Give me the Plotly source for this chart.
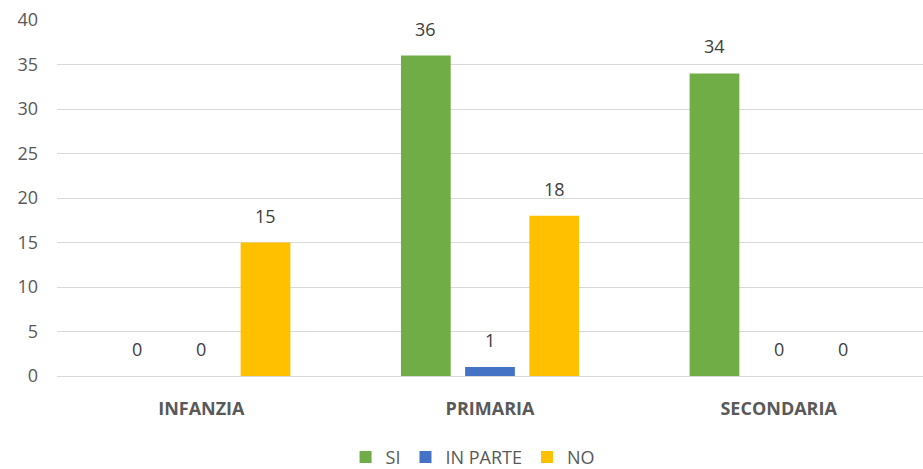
import plotly.graph_objects as go

categories = ["INFANZIA", "PRIMARIA", "SECONDARIA"]
si = [0, 36, 34]
in_parte = [0, 1, 0]
no = [15, 18, 0]
series_names = ["SI", "IN PARTE", "NO"]
colors = ["#70AD47", "#4472C4", "#FFC000"]
y_ticks = [0, 5, 10, 15, 20, 25, 30, 35, 40]

bargap = 0.333
bargroupgap = 0.225
font_color = "#595959"
font_family = "Open Sans, Liberation Sans, sans-serif"

fig = go.Figure()
all_series = [si, in_parte, no]
for name, vals, col in zip(series_names, all_series, colors):
    fig.add_trace(go.Bar(x=categories, y=vals, name=name, marker_color=col,
                         marker_line_width=0))

slot = (1 - bargap) / len(all_series)
annotations = []
for j, vals in enumerate(all_series):
    off = (j - (len(all_series) - 1) / 2) * slot
    for i, v in enumerate(vals):
        annotations.append(dict(x=i + off, y=v, xref="x", yref="y", text=str(v),
                                showarrow=False, yshift=27, yanchor="middle",
                                font=dict(size=18, color="#404040", family=font_family)))

fig.update_layout(
    width=923, height=469,
    margin=dict(l=57, r=0, t=20, b=93, autoexpand=False),
    paper_bgcolor="white", plot_bgcolor="white",
    barmode="group", bargap=bargap, bargroupgap=bargroupgap,
    font=dict(family=font_family, color=font_color, size=16),
    annotations=annotations,
    showlegend=True,
    legend=dict(orientation="h", x=0.512, xanchor="center", y=0.025, yanchor="middle",
                xref="container", yref="container",
                font=dict(size=18, color=font_color), itemwidth=30,
                traceorder="normal"),
)
fig.update_yaxes(range=[0, 40], tickvals=y_ticks, showgrid=True, gridcolor="#D9D9D9",
                 gridwidth=1, zeroline=False, showline=False, automargin=False,
                 tickfont=dict(size=18, color=font_color), ticklabelstandoff=18)
fig.update_xaxes(showgrid=False, showline=True, linecolor="#D9D9D9", linewidth=1,
                 automargin=False,
                 tickfont=dict(size=18, color=font_color, family=font_family, weight="bold"),
                 ticklabelstandoff=16, ticks="")
fig.write_html("out.html", config={"displayModeBar": False},
               post_script="document.body.style.margin='0';")
